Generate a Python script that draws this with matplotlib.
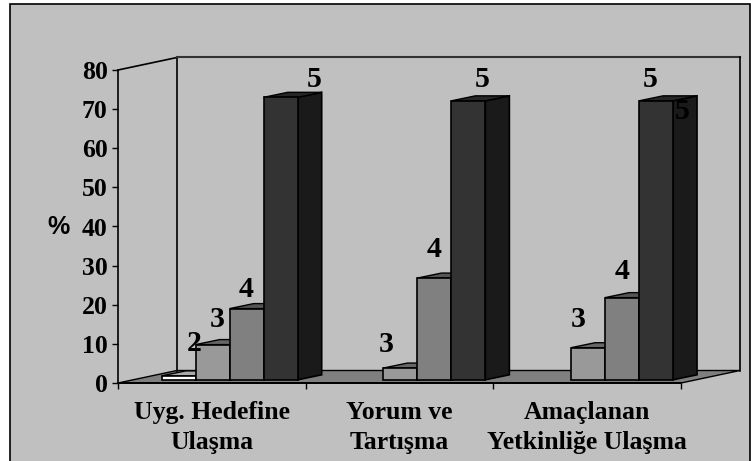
import matplotlib
matplotlib.use("Agg")
import matplotlib.pyplot as plt
from matplotlib.patches import Polygon, Rectangle

categories = ["Uyg. Hedefine\nUlaşma", "Yorum ve\nTartışma", "Amaçlanan\nYetkinliğe Ulaşma"]
grades = ["2", "3", "4", "5"]
grade2 = [1, 0, 0]
grade3 = [9, 3, 8.2]
grade4 = [18.2, 26, 21]
grade5 = [72.2, 71.3, 71.3]
yticks = [0, 10, 20, 30, 40, 50, 60, 70, 80]

W, H = 751, 461
BG = "#c0c0c0"
fonts = ["Liberation Serif", "DejaVu Serif"]

fig = plt.figure(figsize=(W / 100, H / 100), dpi=100, facecolor="white")
ax = fig.add_axes([118 / W, 1 - 383 / H, (681 - 118) / W, (383 - 70) / H])
ax.set_xlim(0, 3)
ax.set_ylim(0, 80)
ax.patch.set_visible(False)

# px to data units
xu = 3 / 563
yu = 80 / 313

# outer frame
fig.add_artist(Rectangle((9.5 / W, -0.01), (749.5 - 9.5) / W, 1 - 3.5 / H + 0.01, transform=fig.transFigure,
	facecolor=BG, edgecolor="black", linewidth=1.2, zorder=-5))

# walls and floor
depthX, depthY = 59 * xu, 12.5 * yu
ax.add_patch(Polygon([(0, 0), (depthX, depthY), (3 + depthX, depthY), (3, 0)], closed=True,
	facecolor="#7f7f7f", edgecolor="black", linewidth=1, clip_on=False, zorder=1))
ax.plot([0, depthX], [80, 80 + depthY], color="black", lw=1.2, clip_on=False, zorder=1)
ax.plot([depthX, depthX], [depthY, 80 + depthY], color="black", lw=1.2, clip_on=False, zorder=1)
ax.plot([depthX, 3 + depthX], [80 + depthY, 80 + depthY], color="#333333", lw=1.5, clip_on=False, zorder=1)
ax.plot([3 + depthX, 3 + depthX], [depthY, 80 + depthY], color="black", lw=1.2, clip_on=False, zorder=1)

# bars
barW = 34 * xu
barStart = 43.7 * xu
baseY = 3.2 * yu
barDX, barDY = 24 * xu, 5 * yu
series = [grade2, grade3, grade4, grade5]
colors = [("white", "#aaaaaa", "#999999"), ("#999999", "#666666", "#555555"),
	("#808080", "#555555", "#444444"), ("#333333", "#262626", "#1a1a1a")]

z = 2
for c in range(len(categories)):
	for s, values in enumerate(series):
		v = values[c]
		if v == 0:
			continue
		front, top, side = colors[s]
		x0 = c + barStart + s * barW
		x1 = x0 + barW
		y0, y1 = baseY, baseY + v
		ax.add_patch(Polygon([(x1, y0), (x1 + barDX, y0 + barDY), (x1 + barDX, y1 + barDY), (x1, y1)], closed=True,
			facecolor=side, edgecolor="black", linewidth=1.2, clip_on=False, zorder=z))
		ax.add_patch(Polygon([(x0, y1), (x0 + barDX, y1 + barDY), (x1 + barDX, y1 + barDY), (x1, y1)], closed=True,
			facecolor=top, edgecolor="black", linewidth=1, clip_on=False, zorder=z))
		ax.add_patch(Rectangle((x0, y0), barW, v, facecolor=front, edgecolor="black", linewidth=1.2, clip_on=False, zorder=z + 0.5))
		z += 1

# data labels, offset in px from the top left of the bar front: category, series, dx, dy
labelOffsets = [(0, 0, 32, 32), (0, 1, 21, 25), (0, 2, 16, 19), (0, 3, 50, 18),
	(1, 1, 3, 24), (1, 2, 17, 29), (1, 3, 31, 21),
	(2, 1, 7, 28), (2, 2, 17, 26), (2, 3, 11, 21), (2, 3, 43, -11)]
for c, s, dx, dy in labelOffsets:
	x = c + barStart + s * barW + dx * xu
	y = baseY + series[s][c] + dy * yu
	ax.text(x, y, grades[s], ha="center", va="center", family=fonts, fontweight="bold", fontsize=21.5, color="black",
		clip_on=False, zorder=50)

# axes
for name in ["top", "right"]:
	ax.spines[name].set_visible(False)
ax.spines["left"].set_linewidth(1.2)
ax.spines["bottom"].set_linewidth(1.4)
ax.spines["left"].set_zorder(40)
ax.spines["bottom"].set_zorder(40)
ax.set_yticks(yticks)
ax.set_yticklabels([str(t) for t in yticks], family=fonts, fontweight="bold", fontsize=18.5)
ax.tick_params(axis="y", length=4.5, width=1, pad=3)
ax.set_xticks([0, 1, 2, 3])
ax.set_xticklabels([])
ax.tick_params(axis="x", which="major", length=4, width=1)
ax.set_xticks([0.5, 1.5, 2.5], minor=True)
ax.set_xticklabels(categories, minor=True, family=fonts, fontweight="bold", fontsize=18.5, linespacing=1.37)
ax.tick_params(axis="x", which="minor", length=0, pad=13)
ax.set_ylabel("%", rotation=0, family=["Liberation Sans"], fontweight="bold", fontsize=18)
ax.yaxis.set_label_coords((58 - 118) / 563, (383 - 227) / 313)
ax.yaxis.label.set_va("center")

fig.savefig("out.png", dpi=100, facecolor="white")
